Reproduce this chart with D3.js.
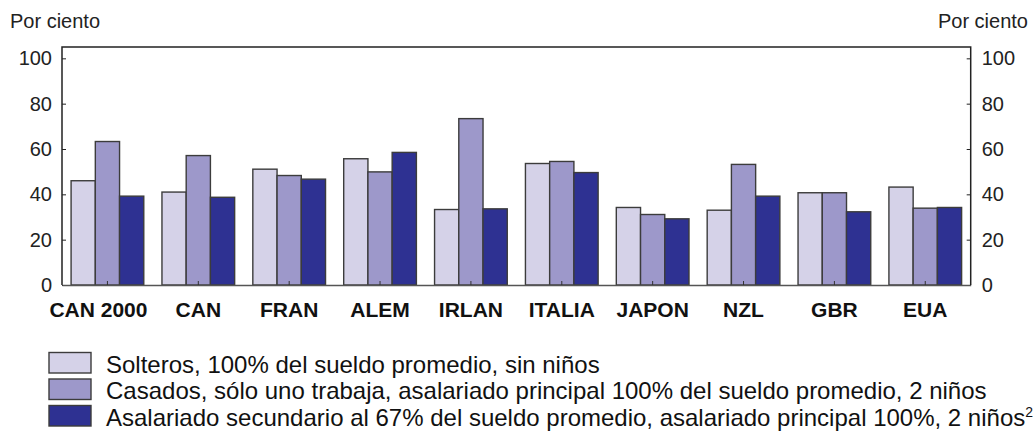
<!DOCTYPE html>
<html>
<head>
<meta charset="utf-8">
<script src="https://cdn.jsdelivr.net/npm/d3@7"></script>
<style>
  html, body { margin: 0; padding: 0; background: #fff; }
  svg { display: block; font-family: "Liberation Sans", Arial, Helvetica, sans-serif; }
</style>
</head>
<body>
<svg id="chart" width="1035" height="431"></svg>
<script>
// Countries shown along the horizontal axis
const categories = ["CAN 2000", "CAN", "FRAN", "ALEM", "IRLAN", "ITALIA", "JAPON", "NZL", "GBR", "EUA"];

// Three household types, values in per cent
const solteros   = [46.0, 41.0, 51.1, 55.7, 33.3, 53.6, 34.2, 33.0, 40.7, 43.2];
const casados    = [63.3, 57.1, 48.3, 49.9, 73.4, 54.5, 31.1, 53.2, 40.7, 33.9];
const secundario = [39.2, 38.7, 46.7, 58.5, 33.6, 49.6, 29.2, 39.2, 32.3, 34.2];

const seriesNames = [
  "Solteros, 100% del sueldo promedio, sin niños",
  "Casados, sólo uno trabaja, asalariado principal 100% del sueldo promedio, 2 niños",
  "Asalariado secundario al 67% del sueldo promedio, asalariado principal 100%, 2 niños"
];
const seriesColors = ["#d5d2e8", "#9d98ca", "#2e3192"];
const yTicks = [0, 20, 40, 60, 80, 100];

const series = [solteros, casados, secundario];

const svg = d3.select("#chart");
const plot = { left: 62, right: 970.7, top: 47, bottom: 285 };

const x = d3.scaleBand()
  .domain(categories)
  .range([plot.left, plot.right])
  .paddingInner(0.2)
  .paddingOuter(0.1);

const xs = d3.scaleBand()
  .domain(d3.range(series.length))
  .range([0, x.bandwidth()]);

const y = d3.scaleLinear()
  .domain([0, 105])
  .range([plot.bottom, plot.top]);

// Bars
const groups = svg.append("g")
  .selectAll("g")
  .data(categories)
  .join("g")
  .attr("transform", d => `translate(${x(d)},0)`);

groups.selectAll("rect")
  .data((d, i) => series.map((s, k) => ({ k, v: s[i] })))
  .join("rect")
  .attr("x", d => xs(d.k))
  .attr("y", d => y(d.v))
  .attr("width", xs.bandwidth())
  .attr("height", d => y(0) - y(d.v))
  .attr("fill", d => seriesColors[d.k])
  .attr("stroke", "#3c3c3c")
  .attr("stroke-width", 1.4);

// Axes (ticks point into the plot)
const axisFont = size => g => g.selectAll("text")
  .attr("font-size", size)
  .attr("fill", "#222")
  .attr("font-family", "Liberation Sans, Arial, sans-serif");

svg.append("g")
  .attr("transform", `translate(${plot.left},0)`)
  .call(d3.axisLeft(y).tickValues(yTicks).tickSize(-4).tickPadding(10))
  .call(g => g.select(".domain").remove())
  .call(g => g.selectAll("line").attr("stroke", "#222"))
  .call(axisFont(20));

svg.append("g")
  .attr("transform", `translate(${plot.right},0)`)
  .call(d3.axisRight(y).tickValues(yTicks).tickSize(-4).tickPadding(11))
  .call(g => g.select(".domain").remove())
  .call(g => g.selectAll("line").attr("stroke", "#222"))
  .call(axisFont(20));

svg.append("g")
  .attr("transform", `translate(0,${plot.bottom})`)
  .call(d3.axisBottom(x).tickSize(-4).tickSizeOuter(0).tickPadding(17))
  .call(g => g.select(".domain").attr("stroke", "#555").attr("stroke-width", 1.5))
  .call(g => g.selectAll("line").attr("stroke", "#333"))
  .call(axisFont(21))
  .call(g => g.selectAll("text").attr("font-weight", "bold").attr("fill", "#111"))
  // the long first label sits a little to the left of its group
  .call(g => g.selectAll("text").filter(d => d === "CAN 2000").attr("dx", -9));

// Frame: top, left and right edges
svg.append("path")
  .attr("d", `M${plot.left},${plot.bottom}V${plot.top}H${plot.right}V${plot.bottom}`)
  .attr("fill", "none")
  .attr("stroke", "#222")
  .attr("stroke-width", 1.5);

// Unit labels
svg.append("text")
  .attr("x", 10).attr("y", 28)
  .attr("font-size", 20).attr("fill", "#222")
  .text("Por ciento");
svg.append("text")
  .attr("x", 1028).attr("y", 28)
  .attr("text-anchor", "end")
  .attr("font-size", 20).attr("fill", "#222")
  .text("Por ciento");

// Legend
const legend = svg.append("g").attr("transform", "translate(49,352.5)");
const rowH = 26.5;
const rows = legend.selectAll("g")
  .data(seriesNames)
  .join("g")
  .attr("transform", (d, i) => `translate(0,${i * rowH})`);

rows.append("rect")
  .attr("x", 0).attr("y", 0)
  .attr("width", 42).attr("height", 20.5)
  .attr("fill", (d, i) => seriesColors[i])
  .attr("stroke", "#3c3c3c")
  .attr("stroke-width", 1.4);

const legendText = rows.append("text")
  .attr("x", 57).attr("y", 20)
  .attr("font-size", 24).attr("fill", "#111")
  .text(d => d);

legendText.filter((d, i) => i === 2)
  .append("tspan")
  .attr("font-size", 14)
  .attr("dy", -9)
  .text("2");
</script>
</body>
</html>
